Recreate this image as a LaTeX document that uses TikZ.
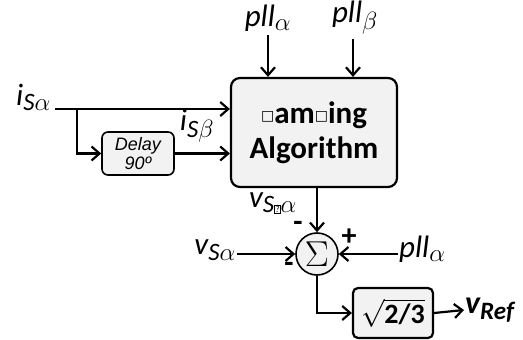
\RequirePackage{fix-cm}
\documentclass[tikz,border=0pt]{standalone}
\usepackage{amsmath}
\usepackage{fontspec}
\setmainfont{Carlito}
\newfontfamily\arialfont{Liberation Sans}
\newfontfamily\symfont{DejaVu Sans}
\usetikzlibrary{positioning,arrows.meta,calc}
\DeclareMathSizes{31}{31}{25}{19}
\DeclareMathSizes{32}{32}{25}{19}

\newcommand{\gap}{{\symfont\fontsize{14}{14}\selectfont\raisebox{0.35ex}{□}}}
\newcommand{\qbox}{{\setlength\fboxsep{0.5pt}\setlength\fboxrule{0.6pt}\fbox{\fontsize{9}{9}\selectfont ?}}}

\begin{document}
\begin{tikzpicture}[x=1pt,y=-1pt,
  blk/.style={draw, line width=2.2pt, rounded corners=9pt, fill=gray!10},
  sig/.style={line width=2.2pt, -{Straight Barb[length=8pt,width=14pt]}},
  lbl/.style={font=\fontsize{31}{34}\selectfont\itshape, inner sep=1pt}]
\useasboundingbox (0,0) rectangle (523,340);

% Main block
\node[blk, minimum width=166pt, minimum height=109pt, align=center,
      font=\fontsize{31}{35}\selectfont\bfseries] (alg) at (314,132.5)
      {\gap am\gap ing\\Algorithm};

% Inputs on top
\node[lbl] (pa) at (268,18) {pll$_{\alpha}$};
\node[lbl] (pb) at (355,18) {pll$_{\beta}$};
\draw[sig] ($(pa.south)+(0,3)$) -- (pa.south |- alg.north);
\draw[sig] ($(pb.south)+(-2,3)$) -- ($(pb.south |- alg.north)+(-2,0)$);

% Current input and its delayed copy
\node[lbl, anchor=base east] (isa) at (52,105) {i$_{\textit{S}\alpha}$};
\coordinate (split) at (77,109);
\node[draw, line width=1.6pt, rounded corners=6pt, fill=gray!10,
      minimum width=72pt, minimum height=43pt, align=center, inner sep=0pt,
      font=\arialfont\itshape\fontsize{18}{19}\selectfont] (delay) at (138,153.5)
      {Delay\\90º};
\draw[line width=2.2pt] ($(isa.base east |- split)+(3,0)$) -- (split);
\draw[sig] (split) -- (alg.west |- split);
\draw[sig] (split) |- (delay.west);
\draw[sig] (delay.east) -- (alg.west |- delay.east);
\node[lbl] (isb) at (197,126) {i$_{\textit{S}\beta}$};

% Summing junction
\node[circle, draw, line width=1.6pt, fill=gray!10, minimum size=42pt,
      inner sep=0pt, font=\fontsize{36}{36}\selectfont] (sum) at (317,254) {$\Sigma$};
\draw[sig] (alg.south -| sum) -- (sum.north);
\node[lbl] (vsx) at (273,203) {v$_{\textit{S}\qbox\alpha}$};
\node[font=\bfseries\fontsize{30}{30}\selectfont] (m1) at (298,226) {-};
\node[font=\bfseries\fontsize{30}{30}\selectfont] (p1) at (349,237) {+};
\node[font=\bfseries\fontsize{30}{30}\selectfont] (m2) at (289,267) {-};

\node[lbl, anchor=east] (vsa) at (237,250) {v$_{\textit{S}\alpha}$};
\draw[sig] (vsa.east |- sum) -- (sum.west);
\node[lbl, anchor=west] (pc) at (398,249) {pll$_{\alpha}$};
\draw[sig] (pc.west |- sum) -- (sum.east);

% Gain and output
\node[blk, rounded corners=5pt, minimum width=80pt, minimum height=50pt,
      font=\fontsize{28}{28}\selectfont\bfseries] (gain) at (393,313)
      {$\sqrt{\text{\bfseries 2/3}}$};
\draw[sig] (sum.south) |- (gain.west);
\node[lbl, anchor=west, font=\fontsize{32}{34}\selectfont\bfseries\itshape] (vref) at (464,310)
      {v$_{\textbf{\textit{Ref}}}$};
\draw[sig] (gain.east) -- (vref.west);

\end{tikzpicture}
\end{document}
